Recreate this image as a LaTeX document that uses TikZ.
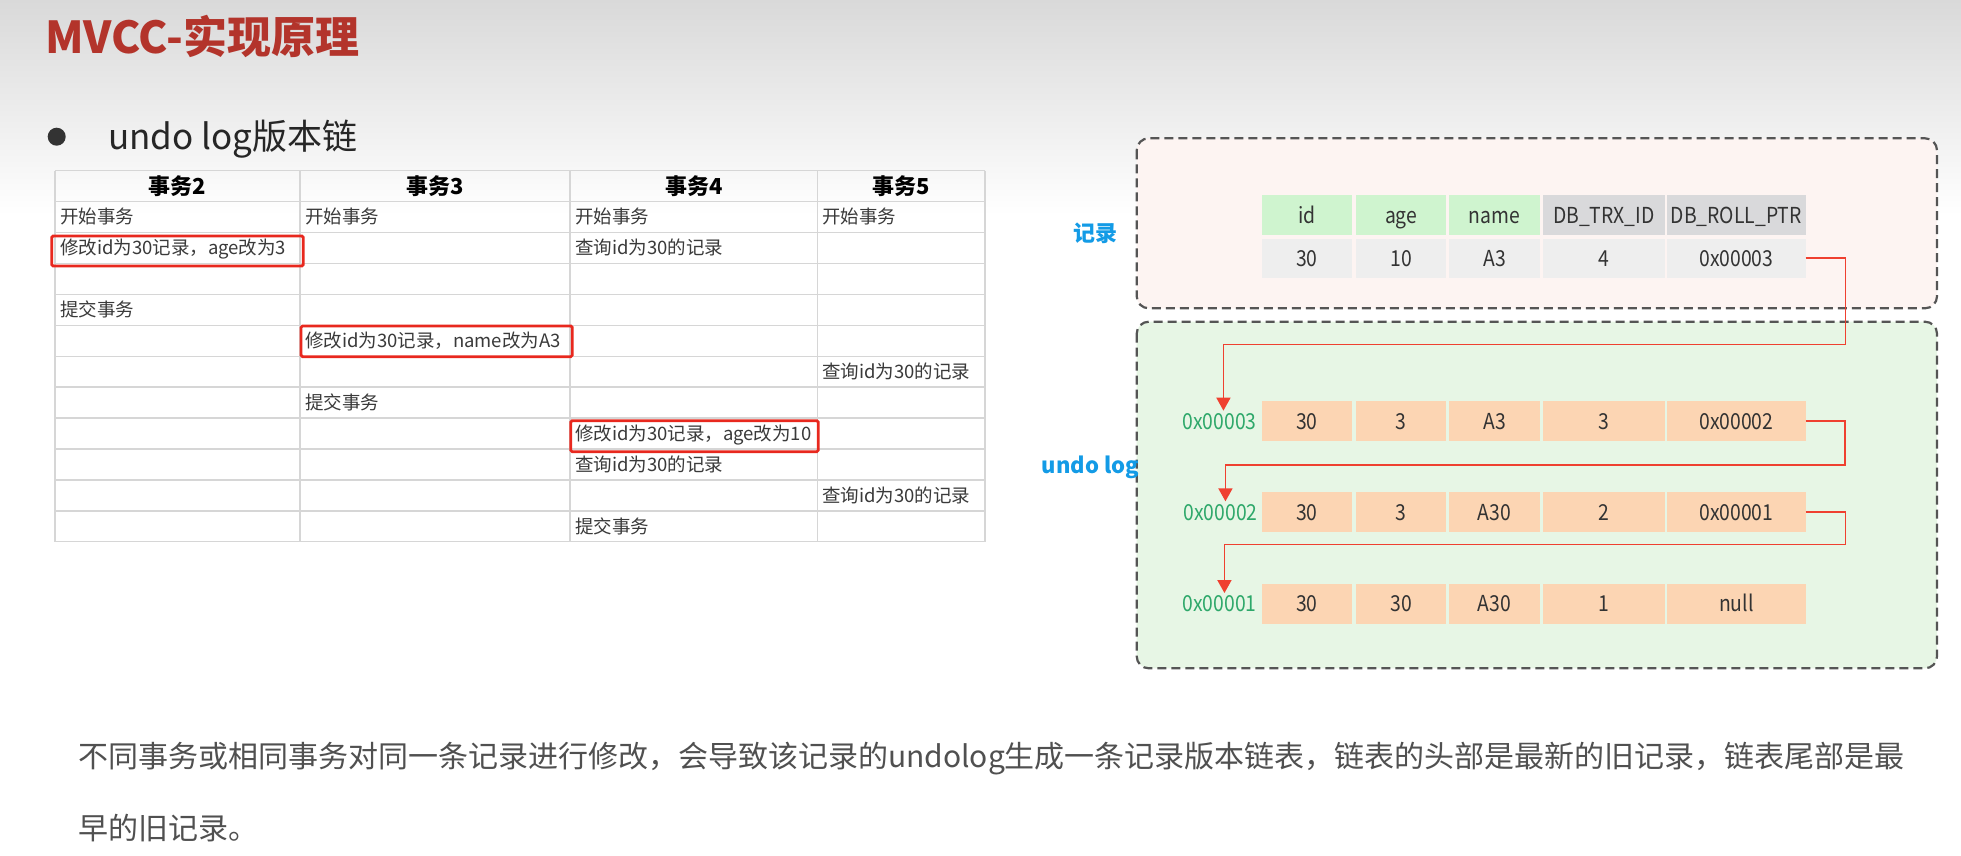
\documentclass[tikz,border=0pt]{standalone}
\usepackage{fontspec}
\setmainfont{Noto Sans CJK SC}
\newfontfamily\cellfont{Noto Sans CJK SC}[FakeStretch=0.88]
\usetikzlibrary{arrows.meta}
\definecolor{bgtop}{HTML}{D9D9D9}
\definecolor{titlered}{HTML}{B3342B}
\definecolor{bulletgray}{HTML}{333333}
\definecolor{gridgray}{HTML}{D6D6D6}
\definecolor{tabtext}{HTML}{3A3A3A}
\definecolor{boxred}{HTML}{E8281E}
\definecolor{dashgray}{HTML}{555555}
\definecolor{recfill}{HTML}{FDF4F2}
\definecolor{undofill}{HTML}{E7F6E5}
\definecolor{hgreen}{HTML}{CFF4CF}
\definecolor{hgray}{HTML}{D9D9DB}
\definecolor{dgray}{HTML}{EEEEEE}
\definecolor{peach}{HTML}{FCD5B3}
\definecolor{celltext}{HTML}{333333}
\definecolor{lblblue}{HTML}{139BE6}
\definecolor{addrgreen}{HTML}{2EA86A}
\definecolor{chainred}{HTML}{EF4030}
\definecolor{paragray}{HTML}{505050}
\begin{document}
\begin{tikzpicture}[x=1bp,y=-1bp,
  every node/.style={inner sep=0pt, outer sep=0pt},
  txt/.style={text height=0.85*#1, text depth=0.12*#1},
  tcell/.style={txt=18.5bp, anchor=west, font=\fontsize{18.5bp}{22bp}\selectfont, text=tabtext},
  thead/.style={txt=22bp, font=\fontsize{22bp}{26bp}\selectfont\bfseries, text=black},
  gridline/.style={draw=gridgray, line width=1.5bp},
  redbox/.style={draw=boxred, line width=2.8bp, rounded corners=1.5bp},
  dbox/.style={draw=dashgray, line width=2.2bp, dash pattern=on 9bp off 5bp, rounded corners=12bp},
  cellbase/.style={txt=22bp, minimum height=40bp, font=\cellfont\fontsize{22bp}{26bp}\selectfont, text=celltext},
  gcell/.style={cellbase, fill=hgreen},
  hcell/.style={cellbase, fill=hgray},
  rcell/.style={cellbase, fill=dgray},
  ucell/.style={cellbase, fill=peach},
  addr/.style={txt=22bp, anchor=east, font=\cellfont\fontsize{22bp}{26bp}\selectfont, text=addrgreen},
  sidelbl/.style={txt=22bp, font=\fontsize{22bp}{26bp}\selectfont\bfseries, text=lblblue},
  chain/.style={draw=chainred, line width=1.8bp, -{Triangle[width=14bp,length=13bp]}},
  para/.style={txt=30bp, anchor=west, font=\fontsize{30bp}{36bp}\selectfont, text=paragray}
]
\useasboundingbox (0,0) rectangle (1961,856);
% background
\fill[white] (0,0) rectangle (1961,856);
\shade[top color=bgtop, bottom color=white] (0,0) rectangle (1961,215);

% title and subtitle
\node[anchor=west, txt=44bp, font=\fontsize{44bp}{50bp}\selectfont\bfseries, text=titlered] (title) at (45,37) {MVCC-实现原理};
\node[circle, fill=bulletgray, minimum size=18bp] (bullet) at (56.7,136.7) {};
\node[anchor=west, txt=35bp, font=\fontsize{35bp}{40bp}\selectfont, text=black!85] (sub) at (108,137) {undo log版本链};

% transaction table grid
\draw[gridline] (55,170.7) -- (985,170.7);
\foreach \k in {0,...,11} \draw[gridline] (55,201.7+30.91*\k) -- (985,201.7+30.91*\k);
\foreach \cx in {55,300,570,817.5,985} \draw[gridline] (\cx,170.7) -- (\cx,541.7);

% headers
\node[thead] (th2) at (177.5,186.2) {事务2};
\node[thead] (th3) at (435,186.2) {事务3};
\node[thead] (th4) at (693.8,186.2) {事务4};
\node[thead] (th5) at (901.3,186.2) {事务5};

% rows
\node[tcell] (c11) at (60,217.2) {开始事务};
\node[tcell] (c12) at (305,217.2) {开始事务};
\node[tcell] (c13) at (575,217.2) {开始事务};
\node[tcell] (c14) at (822,217.2) {开始事务};
\node[tcell] (c21) at (60,248.1) {修改id为30记录，age改为3};
\node[tcell] (c23) at (575,248.1) {查询id为30的记录};
\node[tcell] (c41) at (60,309.9) {提交事务};
\node[tcell] (c52) at (305,340.8) {修改id为30记录，name改为A3};
\node[tcell] (c64) at (822,371.7) {查询id为30的记录};
\node[tcell] (c72) at (305,402.6) {提交事务};
\node[tcell] (c83) at (575,433.5) {修改id为30记录，age改为10};
\node[tcell] (c93) at (575,464.5) {查询id为30的记录};
\node[tcell] (c104) at (822,495.4) {查询id为30的记录};
\node[tcell] (c113) at (575,526.3) {提交事务};

% red highlight boxes
\draw[redbox] (51.7,236) rectangle (303.3,266);
\draw[redbox] (301,326) rectangle (572.3,356.7);
\draw[redbox] (570.7,420.7) rectangle (818.3,451.7);

% dashed containers
\draw[dbox, fill=recfill] (1136.7,138.3) rectangle (1937,308.3);
\draw[dbox, fill=undofill] (1136.7,321.7) rectangle (1937,668.3);

% side labels
\node[sidelbl] (lrec) at (1095,233) {记录};
\node[sidelbl] (lundo) at (1090.5,465) {undo log};

% record table
\node[gcell, minimum width=90.5bp] (h1) at (1306.8,215) {id};
\node[gcell, minimum width=90.3bp] (h2) at (1401.2,215) {age};
\node[gcell, minimum width=91bp] (h3) at (1494.5,215) {name};
\node[hcell, minimum width=121.5bp] (h4) at (1603.8,215) {DB\_TRX\_ID};
\node[hcell, minimum width=138.5bp] (h5) at (1736.3,215) {DB\_ROLL\_PTR};
\node[rcell, minimum width=90.5bp, minimum height=39bp] (d1) at (1306.8,258.3) {30};
\node[rcell, minimum width=90.3bp, minimum height=39bp] (d2) at (1401.2,258.3) {10};
\node[rcell, minimum width=91bp, minimum height=39bp] (d3) at (1494.5,258.3) {A3};
\node[rcell, minimum width=121.5bp, minimum height=39bp] (d4) at (1603.8,258.3) {4};
\node[rcell, minimum width=138.5bp, minimum height=39bp] (d5) at (1736.3,258.3) {0x00003};

% undo log rows
\node[addr] (a3) at (1256.5,421.3) {0x00003};
\node[ucell, minimum width=90.5bp] (u11) at (1306.8,421.3) {30};
\node[ucell, minimum width=90.3bp] (u12) at (1401.2,421.3) {3};
\node[ucell, minimum width=91bp] (u13) at (1494.5,421.3) {A3};
\node[ucell, minimum width=121.5bp] (u14) at (1603.8,421.3) {3};
\node[ucell, minimum width=138.5bp] (u15) at (1736.3,421.3) {0x00002};

\node[addr] (a2) at (1257.5,512) {0x00002};
\node[ucell, minimum width=90.5bp] (u21) at (1306.8,512) {30};
\node[ucell, minimum width=90.3bp] (u22) at (1401.2,512) {3};
\node[ucell, minimum width=91bp] (u23) at (1494.5,512) {A30};
\node[ucell, minimum width=121.5bp] (u24) at (1603.8,512) {2};
\node[ucell, minimum width=138.5bp] (u25) at (1736.3,512) {0x00001};

\node[addr] (a1) at (1256.5,603.7) {0x00001};
\node[ucell, minimum width=90.5bp] (u31) at (1306.8,603.7) {30};
\node[ucell, minimum width=90.3bp] (u32) at (1401.2,603.7) {30};
\node[ucell, minimum width=91bp] (u33) at (1494.5,603.7) {A30};
\node[ucell, minimum width=121.5bp] (u34) at (1603.8,603.7) {1};
\node[ucell, minimum width=138.5bp] (u35) at (1736.3,603.7) {null};

% chain connectors
\coordinate (t1) at (1845.5,344.5);
\coordinate (t2) at (1845,465);
\coordinate (t3) at (1845.5,544.5);
\draw[chain] (d5.east) -| (t1) -| ([xshift=4bp]a3.north);
\draw[chain] (u15.east) -| (t2) -| ([xshift=5bp]a2.north);
\draw[chain] (u25.east) -| (t3) -| ([xshift=5bp]a1.north);

% paragraph
\node[para] (p1) at (78,757) {不同事务或相同事务对同一条记录进行修改，会导致该记录的undolog生成一条记录版本链表，链表的头部是最新的旧记录，链表尾部是最};
\node[para] (p2) at (78,829) {早的旧记录。};
\end{tikzpicture}
\end{document}
